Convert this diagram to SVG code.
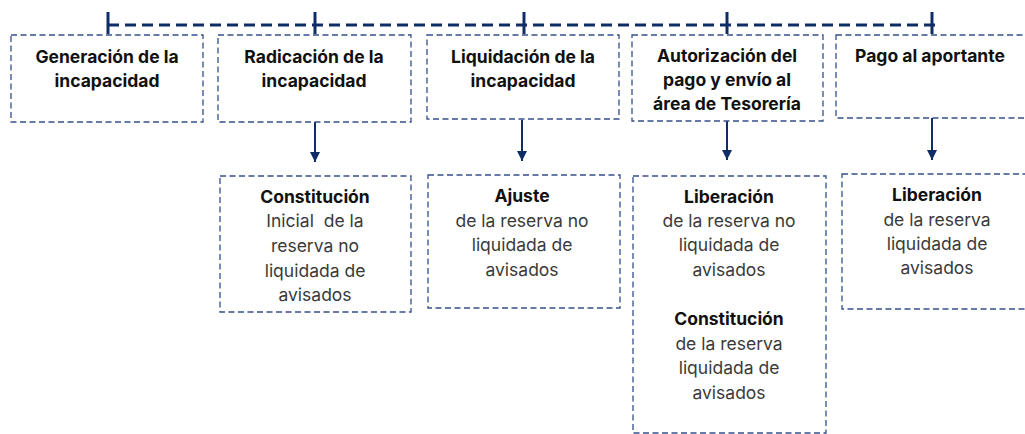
<svg xmlns="http://www.w3.org/2000/svg" width="1025" height="434" viewBox="0 0 1025 434">
<defs>
<marker id="ah" viewBox="0 0 10 10" refX="10" refY="5" markerWidth="10" markerHeight="10" markerUnits="userSpaceOnUse" orient="auto">
<path d="M0,0 L10,5 L0,10 z" fill="#0E2C66"/>
</marker>
<style>
.box{fill:#fff;stroke:#34508C;stroke-width:1.3;stroke-dasharray:6 3.5}
.t{font-family:Inter,Roboto,"Liberation Sans",sans-serif;font-size:17.5px;font-weight:bold;fill:#111;text-anchor:middle}
.r{font-family:Inter,Roboto,"Liberation Sans",sans-serif;font-size:17.5px;fill:#3a3a3a;text-anchor:middle}
.tl{stroke:#0E2C66;stroke-width:3;fill:none}
.ar{stroke:#0E2C66;stroke-width:2;fill:none;marker-end:url(#ah)}
</style>
</defs>
<rect width="1025" height="434" fill="#fff"/>
<g id="connectors">
<line class="tl" x1="108" y1="25" x2="938" y2="25" stroke-dasharray="11 6"/>
<line class="tl" x1="108" y1="12" x2="108" y2="34"/>
<line class="tl" x1="315" y1="12" x2="315" y2="34"/>
<line class="tl" x1="524" y1="12" x2="524" y2="34"/>
<line class="tl" x1="727" y1="12" x2="727" y2="34"/>
<line class="tl" x1="932" y1="12" x2="932" y2="34"/>
<line class="ar" x1="315" y1="122" x2="315" y2="162"/>
<line class="ar" x1="522" y1="120" x2="522" y2="161"/>
<line class="ar" x1="727" y1="121" x2="727" y2="160"/>
<line class="ar" x1="932" y1="118" x2="932" y2="160"/>
</g>
<g id="n1"><rect class="box" x="11" y="35" width="192" height="87"/>
<text class="t" x="107" y="63">Generación de la</text><text class="t" x="107" y="87">incapacidad</text></g>
<g id="n2"><rect class="box" x="218" y="35" width="193" height="87"/>
<text class="t" x="314" y="63">Radicación de la</text><text class="t" x="314" y="87">incapacidad</text></g>
<g id="n3"><rect class="box" x="427" y="35" width="192" height="84"/>
<text class="t" x="523" y="63">Liquidación de la</text><text class="t" x="523" y="87">incapacidad</text></g>
<g id="n4"><rect class="box" x="632" y="35" width="191" height="86"/>
<text class="t" x="727" y="62">Autorización del</text><text class="t" x="727" y="86">pago y envío al</text><text class="t" x="727" y="110">área de Tesorería</text></g>
<g id="n5"><rect class="box" x="836" y="35" width="195" height="83"/>
<text class="t" x="930" y="62">Pago al aportante</text></g>
<g id="b2"><rect class="box" x="220" y="176" width="191" height="136"/>
<text class="t" x="315" y="203">Constitución</text>
<text class="r" x="315" y="227" xml:space="preserve">Inicial  de la</text>
<text class="r" x="315" y="252">reserva no</text>
<text class="r" x="315" y="277">liquidada de</text>
<text class="r" x="315" y="301">avisados</text></g>
<g id="b3"><rect class="box" x="428" y="175" width="192" height="133"/>
<text class="t" x="522" y="202">Ajuste</text>
<text class="r" x="522" y="227">de la reserva no</text>
<text class="r" x="522" y="251">liquidada de</text>
<text class="r" x="522" y="276">avisados</text></g>
<g id="b4"><rect class="box" x="633" y="176" width="193" height="257"/>
<text class="t" x="729" y="203">Liberación</text>
<text class="r" x="729" y="227">de la reserva no</text>
<text class="r" x="729" y="251">liquidada de</text>
<text class="r" x="729" y="276">avisados</text>
<text class="t" x="729" y="325">Constitución</text>
<text class="r" x="729" y="350">de la reserva</text>
<text class="r" x="729" y="374">liquidada de</text>
<text class="r" x="729" y="399">avisados</text></g>
<g id="b5"><rect class="box" x="842" y="174" width="190" height="135"/>
<text class="t" x="937" y="201">Liberación</text>
<text class="r" x="937" y="226">de la reserva</text>
<text class="r" x="937" y="250">liquidada de</text>
<text class="r" x="937" y="274">avisados</text></g>
</svg>
